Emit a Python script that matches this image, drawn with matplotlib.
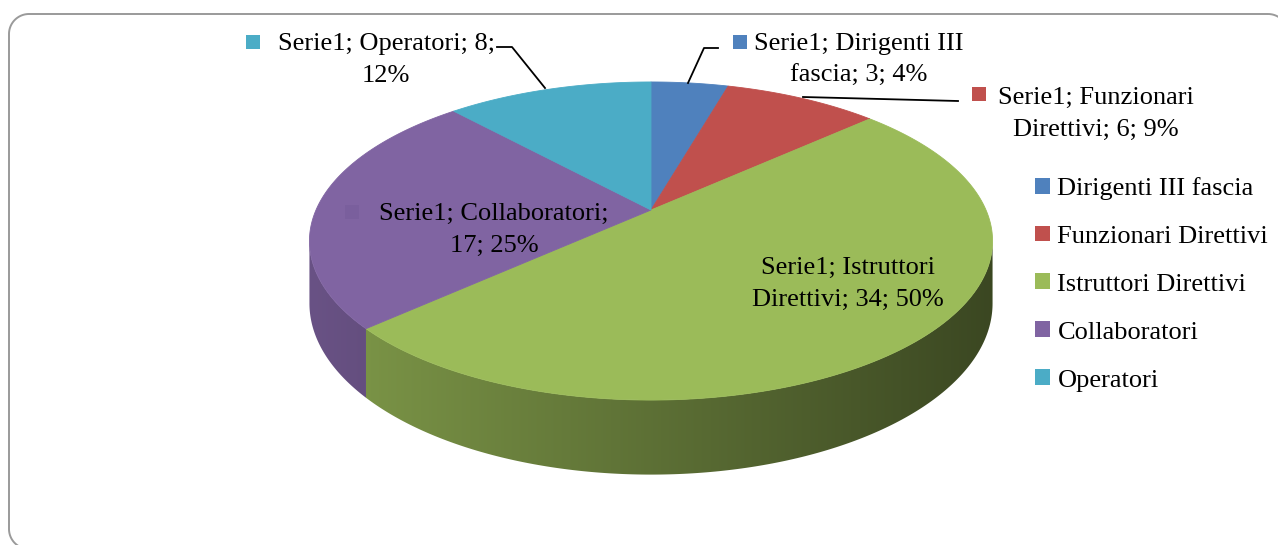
import matplotlib.pyplot as plt
import matplotlib.colors as mcolors
import numpy as np
from matplotlib.patches import Polygon, Rectangle, Patch

# data
series_name = 'Serie1'
categories = ['Dirigenti III fascia', 'Funzionari Direttivi', 'Istruttori Direttivi',
              'Collaboratori', 'Operatori']
values = [3, 6, 34, 17, 8]
colors = ['#4F81BD', '#C0504D', '#9BBB59', '#8064A2', '#4BACC6']

plt.rcParams['font.family'] = ['Liberation Serif', 'DejaVu Serif']

W, H = 1278, 545
fig = plt.figure(figsize=(W / 100, H / 100), dpi=100)
ax = fig.add_axes([0, 0, 1, 1])
ax.set_xlim(0, W)
ax.set_ylim(H, 0)
ax.axis('off')

# 3d pie look: simple perspective of a tilted disc
cx, cy, sx, sy, k, D = 651, 210, 335, 153, 0.195, 60


def proj(u, v, z=0.0):
    s = 1.0 / (1.0 + k * v)
    return cx + sx * u * s, cy - sy * v * s + z * D * s


total = sum(values)
fracs = np.cumsum([0] + values) / total
angles = 90 - 360 * fracs      # clockwise from 12 o'clock

# side first (front part only)
a_sil = np.degrees(np.arcsin(k))
vis_lo, vis_hi = -180 + a_sil, -a_sil
xl, _ = proj(-np.sqrt(1 - k * k), -k)
xr, _ = proj(np.sqrt(1 - k * k), -k)
gx = np.linspace(xl, xr, 300)
shade = 0.82 - 0.44 * (gx - xl) / (xr - xl)
for i, c in enumerate(colors):
    a_hi, a_lo = angles[i], angles[i + 1]
    for shift in (-360, 0, 360):
        lo = max(a_lo, vis_lo + shift)
        hi = min(a_hi, vis_hi + shift)
        if lo >= hi:
            continue
        t = np.radians(np.linspace(lo, hi, 200))
        x0, y0 = proj(np.cos(t), np.sin(t))
        x1, y1 = proj(np.cos(t), np.sin(t), 1.0)
        pts = np.column_stack([np.r_[x0, x1[::-1]], np.r_[y0, y1[::-1]]])
        poly = Polygon(pts, closed=True, facecolor='none', edgecolor='none')
        ax.add_patch(poly)
        rgb = np.array(mcolors.to_rgb(c))
        img = (shade[:, None] * rgb[None, :])[None, :, :]
        im = ax.imshow(img, extent=(xl, xr, H, 0), aspect='auto', zorder=1,
                       interpolation='bilinear')
        im.set_clip_path(poly)

# top face
for i, c in enumerate(colors):
    t = np.radians(np.linspace(angles[i], angles[i + 1], 200))
    xs, ys = proj(np.cos(t), np.sin(t))
    ax0, ay0 = proj(0.0, 0.0)
    pts = np.column_stack([np.r_[ax0, xs], np.r_[ay0, ys]])
    ax.add_patch(Polygon(pts, closed=True, facecolor=c, edgecolor=c, lw=0.6, zorder=3))

ax.set_xlim(0, W)
ax.set_ylim(H, 0)

# rounded chart border (runs off the right and bottom edge)
fx0, fy0, fx1, fy1, rr = 9, 14, 1288, 549, 20
corners = [(fx1 - rr, fy0 + rr, -90, 0), (fx1 - rr, fy1 - rr, 0, 90),
           (fx0 + rr, fy1 - rr, 90, 180), (fx0 + rr, fy0 + rr, 180, 270)]
bx, by = [], []
for ccx, ccy, a0, a1 in corners:
    tt = np.radians(np.linspace(a0, a1, 30))
    bx.extend(ccx + rr * np.cos(tt))
    by.extend(ccy + rr * np.sin(tt))
ax.add_patch(Polygon(np.column_stack([bx, by]), closed=True, facecolor='none',
                     edgecolor='#9a9a9a', linewidth=1.4, clip_on=True, zorder=0))

first_line_words = [3, 2, 2, 2, 3]
label_pos = [(859, 60), (1096, 114), (848, 284), (494, 230), (386, 60)]
marker_pos = [(733, 35), (972, 87), None, (345, 205), (246, 35)]
marker_cols = [colors[0], colors[1], None, '#7a5f9d', colors[4]]

for i, cat in enumerate(categories):
    pct = round(values[i] / total * 100)
    words = f'{series_name}; {cat}; {values[i]}; {pct}%'.split(' ')
    n = first_line_words[i]
    txt = ' '.join(words[:n]) + '\n' + ' '.join(words[n:])
    x, y = label_pos[i]
    ax.text(x, y, txt, ha='center', va='center', multialignment='center',
            fontsize=19, linespacing=1.6, color='black', zorder=5)
    if marker_pos[i] is not None:
        mx, my = marker_pos[i]
        ax.add_patch(Rectangle((mx, my), 14, 14, facecolor=marker_cols[i],
                               edgecolor='none', zorder=5))

# leader lines
ax.plot([497, 512, 545], [47, 47, 88], color='black', lw=1.3, zorder=6)
ax.plot([688, 704, 718], [83, 48, 48], color='black', lw=1.3, zorder=6)
ax.plot([803, 958], [97, 101], color='black', lw=1.3, zorder=6)

handles = [Patch(facecolor=c, edgecolor='none') for c in colors]
fig.legend(handles, categories, loc='upper left', bbox_to_anchor=(1035 / W, 1 - 177 / H),
           frameon=False, fontsize=19, handlelength=0.55, handleheight=0.55,
           handletextpad=0.3, labelspacing=0.97, borderpad=0, borderaxespad=0)

fig.savefig('out.png', dpi=100)
